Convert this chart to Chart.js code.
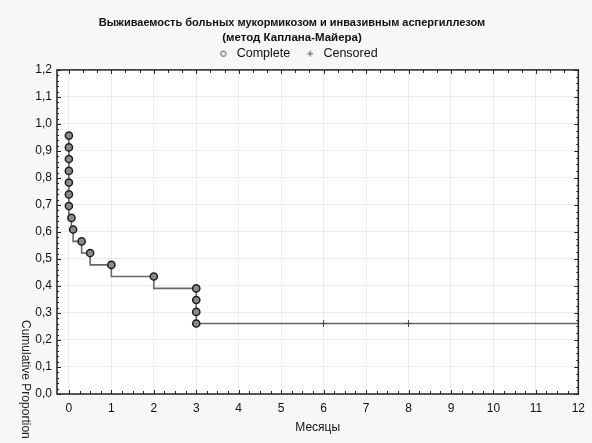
<!DOCTYPE html>
<html>
<head>
<meta charset="utf-8">
<script src="https://cdn.jsdelivr.net/npm/chart.js@4.4.1/dist/chart.umd.min.js"></script>
<style>
    html, body { margin: 0; padding: 0; background: #f6f7f7; }
    #wrap { width: 592px; height: 443px; }
</style>
</head>
<body>
<div id="wrap"><canvas id="myChart"></canvas></div>
<script>
// events (deaths) - times in months and survival after each
const completeTimes = [0, 0, 0, 0, 0, 0, 0, 0.06, 0.1, 0.3, 0.5, 1, 2, 3, 3, 3, 3];
const completeValues = [0.957, 0.913, 0.870, 0.826, 0.783, 0.739, 0.696, 0.652, 0.609, 0.565, 0.522, 0.478, 0.435, 0.391, 0.348, 0.304, 0.261];
// censored
const censoredTimes = [6, 8];
const censoredValues = [0.261, 0.261];
// curve runs on to the end of follow-up
const endTime = 12;
const endValue = 0.261;

const xTickValues = [0, 1, 2, 3, 4, 5, 6, 7, 8, 9, 10, 11, 12];

const titleText = 'Выживаемость больных мукормикозом и инвазивным аспергиллезом';
const subtitleText = '(метод Каплана-Майера)';
const xTitle = 'Месяцы';
const yTitle = 'Cumulative Proportion';

const FONT = '"Liberation Sans", Arial, sans-serif';

function toPoints(xs, ys) {
    return xs.map((x, i) => ({x: x, y: ys[i]}));
}

const curve = toPoints(completeTimes, completeValues)
    .concat(toPoints(censoredTimes, censoredValues))
    .concat([{x: endTime, y: endValue}]);

// small legend markers, shifted right inside the box so spacing matches
function legendMarker(kind) {
    const c = document.createElement('canvas');
    c.width = 20;
    c.height = 8;
    const g = c.getContext('2d');
    const cx = 15, cy = 4;
    g.strokeStyle = '#555';
    g.lineWidth = 1;
    g.beginPath();
    if (kind === 'circle') {
        g.arc(cx, cy, 2.6, 0, Math.PI * 2);
    } else {
        g.moveTo(cx - 3, cy); g.lineTo(cx + 3, cy);
        g.moveTo(cx, cy - 3); g.lineTo(cx, cy + 3);
    }
    g.stroke();
    return c;
}
const legendMarkers = { Complete: legendMarker('circle'), Censored: legendMarker('plus') };

// page background + white plot area
const bgPlugin = {
    id: 'bg',
    beforeDraw(chart) {
        const {ctx, chartArea: a} = chart;
        ctx.save();
        ctx.fillStyle = '#f6f7f7';
        ctx.fillRect(0, 0, chart.width, chart.height);
        ctx.fillStyle = '#ffffff';
        ctx.fillRect(a.left, a.top, a.right - a.left, a.bottom - a.top);
        ctx.restore();
    }
};

// frame with inward ticks, rotated y title
const framePlugin = {
    id: 'frame',
    afterDraw(chart) {
        const {ctx, chartArea: a, scales: {x, y}} = chart;
        ctx.save();
        ctx.strokeStyle = '#222';
        ctx.lineWidth = 1;
        ctx.beginPath();
        // bottom: major every 1, minor every 0.25
        for (let i = 0; i <= 48; i++) {
            const px = Math.round(x.getPixelForValue(i * 0.25)) + 0.5;
            const len = i % 4 === 0 ? 4 : 3;
            ctx.moveTo(px, a.bottom); ctx.lineTo(px, a.bottom - len);
        }
        // top: every 1/3
        for (let i = 0; i <= 36; i++) {
            const px = Math.round(x.getPixelForValue(i / 3)) + 0.5;
            const len = i % 3 === 0 ? 4 : 3;
            ctx.moveTo(px, a.top); ctx.lineTo(px, a.top + len);
        }
        // left: major 0.1, minor 0.02
        for (let i = 0; i <= 60; i++) {
            const py = Math.round(y.getPixelForValue(i * 0.02)) + 0.5;
            const len = i % 5 === 0 ? 4 : 2;
            ctx.moveTo(a.left, py); ctx.lineTo(a.left + len, py);
        }
        // right: every 0.025
        for (let i = 0; i <= 48; i++) {
            const py = Math.round(y.getPixelForValue(i * 0.025)) + 0.5;
            const len = i % 4 === 0 ? 4 : 2;
            ctx.moveTo(a.right, py); ctx.lineTo(a.right - len, py);
        }
        ctx.stroke();

        ctx.lineWidth = 1.5;
        ctx.strokeRect(a.left, a.top, a.right - a.left, a.bottom - a.top);

        ctx.fillStyle = '#222';
        ctx.font = '12px ' + FONT;
        ctx.translate(25, 320);
        ctx.rotate(Math.PI / 2);
        ctx.textAlign = 'left';
        ctx.textBaseline = 'middle';
        ctx.fillText(yTitle, 0, 0);
        ctx.restore();
    }
};

const ctx = document.getElementById('myChart');
new Chart(ctx, {
    type: 'line',
    data: {
        datasets: [
            {
                label: 'curve',
                data: curve,
                stepped: 'after',
                borderColor: '#666',
                borderWidth: 1.6,
                pointRadius: 0,
                fill: false,
                order: 3
            },
            {
                label: 'Complete',
                data: toPoints(completeTimes, completeValues),
                showLine: false,
                pointStyle: 'circle',
                pointRadius: 3.6,
                pointBorderWidth: 1.5,
                pointBackgroundColor: '#8a8a8a',
                pointBorderColor: '#1e1e1e',
                order: 1
            },
            {
                label: 'Censored',
                data: toPoints(censoredTimes, censoredValues),
                showLine: false,
                pointStyle: 'cross',
                pointRadius: 3.5,
                pointBorderWidth: 1,
                pointBorderColor: '#444',
                order: 2
            }
        ]
    },
    plugins: [bgPlugin, framePlugin],
    options: {
        responsive: true,
        maintainAspectRatio: false,
        animation: false,
        layout: { padding: { top: 0, right: 8, left: 0, bottom: 0 } },
        plugins: {
            title: {
                display: true,
                text: titleText,
                color: '#111',
                font: { family: FONT, size: 11, weight: 'bold', lineHeight: 1.2 },
                padding: { top: 16, bottom: 2 }
            },
            subtitle: {
                display: true,
                text: subtitleText,
                color: '#111',
                font: { family: FONT, size: 11.5, weight: 'bold', lineHeight: 1.15 },
                padding: { top: 0, bottom: 0 }
            },
            legend: {
                display: true,
                labels: {
                    filter: (item) => item.text !== 'curve',
                    usePointStyle: true,
                    pointStyleWidth: 24,
                    padding: 3,
                    color: '#111',
                    font: { family: FONT, size: 12.5 },
                    generateLabels: (chart) => {
                        const items = Chart.defaults.plugins.legend.labels.generateLabels(chart);
                        items.forEach(it => {
                            if (legendMarkers[it.text]) it.pointStyle = legendMarkers[it.text];
                        });
                        return items;
                    }
                }
            },
            tooltip: { enabled: false }
        },
        scales: {
            x: {
                type: 'linear',
                min: -0.28,
                max: 12,
                afterBuildTicks: (scale) => {
                    scale.ticks = xTickValues.map(v => ({value: v}));
                },
                afterFit: (scale) => { scale.height = 49; },
                ticks: {
                    padding: 7,
                    color: '#111',
                    font: { family: FONT, size: 12 }
                },
                grid: { color: '#ececec', drawTicks: false },
                border: { display: false },
                title: {
                    display: true,
                    text: xTitle,
                    color: '#111',
                    font: { family: FONT, size: 12 },
                    padding: { top: 0, bottom: 8 }
                }
            },
            y: {
                min: 0,
                max: 1.2,
                afterFit: (scale) => { scale.width = 57; },
                ticks: {
                    stepSize: 0.1,
                    padding: 5,
                    color: '#111',
                    font: { family: FONT, size: 12 },
                    callback: (v) => Number(v).toFixed(1).replace('.', ',')
                },
                grid: { color: '#ececec', drawTicks: false },
                border: { display: false }
            }
        }
    }
});
</script>
</body>
</html>
